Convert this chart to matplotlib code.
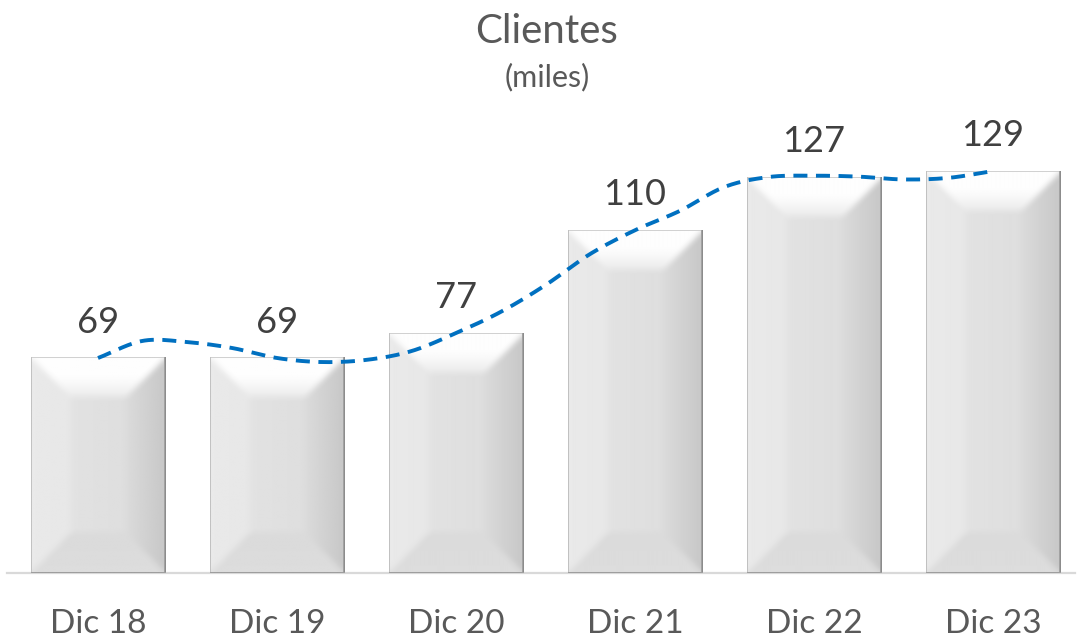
import numpy as np
import matplotlib
matplotlib.use("Agg")
import matplotlib.pyplot as plt

plt.rcParams['font.family'] = ['Lato', 'DejaVu Sans']

# data
categories = ["Dic 18", "Dic 19", "Dic 20", "Dic 21", "Dic 22", "Dic 23"]
clientes = [69, 69, 77, 110, 127, 129]

linea_pos = [0, 0.25, 0.5, 0.75, 1, 1.25, 1.5, 1.75, 2, 2.25, 2.5,
             2.75, 3, 3.25, 3.5, 3.75, 4, 4.25, 4.5, 4.75, 5]
linea_val = [69, 74.5, 74.1, 72.2, 69, 67.7, 68.4, 71.2, 77, 83.8, 92.4,
             102.4, 110, 116.2, 123.9, 127.1, 127.5, 127.2, 126.3, 126.8, 129]

BAR_W = 0.75


def catmull_rom(xs, ys, n=24):
    pts = np.column_stack([xs, ys]).astype(float)
    p = np.vstack([2 * pts[0] - pts[1], pts, 2 * pts[-1] - pts[-2]])
    t = np.linspace(0, 1, n, endpoint=False)[:, None]
    out = []
    for i in range(1, len(p) - 2):
        p0, p1, p2, p3 = p[i - 1], p[i], p[i + 1], p[i + 2]
        seg = 0.5 * (2 * p1 + (-p0 + p2) * t
                     + (2 * p0 - 5 * p1 + 4 * p2 - p3) * t ** 2
                     + (-p0 + 3 * p1 - 3 * p2 + p3) * t ** 3)
        out.append(seg)
    out.append(pts[-1:])
    out = np.vstack(out)
    return out[:, 0], out[:, 1]


def box_blur(a, r):
    k = np.ones(2 * r + 1) / (2 * r + 1)
    a = np.pad(a, r, mode='edge')
    a = np.apply_along_axis(lambda m: np.convolve(m, k, mode='valid'), 0, a)
    a = np.apply_along_axis(lambda m: np.convolve(m, k, mode='valid'), 1, a)
    return a


def bevel(W, H, D=40):
    # grey levels of an Excel style "bevel" fill
    yy, xx = np.mgrid[0:H, 0:W] + 0.5
    d = np.stack([yy, H - yy, xx, W - xx])
    side = d.argmin(0)
    dm = d.min(0)
    t = np.clip(dm / D, 0, 1)
    g = 0.895 - 0.035 * (xx / W)
    inb = dm < D
    top = 0.995 - 0.08 * np.clip((t - 0.4) / 0.6, 0, 1) ** 1.5
    left = 0.915 - 0.01 * t
    right = 0.78 + 0.08 * t
    bottom = 0.865 - 0.01 * t
    g = np.where(inb & (side == 0), top, g)
    g = np.where(inb & (side == 1), bottom, g)
    g = np.where(inb & (side == 2), left, g)
    g = np.where(inb & (side == 3), right, g)
    g = box_blur(g, 4)
    g[0, :] = 0.82
    g[:, 0] = 0.76
    g[:, -1] = 0.55
    g[:, -2] = 0.64
    g[-1, :] = 0.62
    return g


fig = plt.figure(figsize=(10.81, 6.4), dpi=100)
ax = fig.add_axes([7 / 1081, 67 / 640, 1068 / 1081, 473 / 640])
ax.set_xlim((7 - 98) / 179, (1075 - 98) / 179)
ax.set_ylim(0, 473 / 3.116)
ax.set_autoscale_on(False)

px_x = ax.bbox.width / (ax.get_xlim()[1] - ax.get_xlim()[0])
px_y = ax.bbox.height / (ax.get_ylim()[1] - ax.get_ylim()[0])

x = np.arange(len(categories))
for i, v in zip(x, clientes):
    W = int(round(BAR_W * px_x))
    H = int(round(v * px_y))
    img = bevel(W, H)
    ax.imshow(img, cmap='gray', vmin=0, vmax=1, aspect='auto',
              interpolation='bilinear', zorder=2,
              extent=(i - BAR_W / 2, i + BAR_W / 2, 0, v))
    ax.annotate(str(v), (i, v), xytext=(0, 18), textcoords='offset points',
                ha='center', va='baseline', fontsize=26, color='#404040')

sx, sy = catmull_rom(linea_pos, linea_val)
ax.plot(sx, sy, color='#0070C0', lw=2.8, ls=(0, (3.6, 2.2)),
        dash_capstyle='butt', zorder=4)

for s in ['top', 'left', 'right']:
    ax.spines[s].set_visible(False)
ax.spines['bottom'].set_color('#d9d9d9')
ax.spines['bottom'].set_linewidth(1.6)
ax.spines['bottom'].set_zorder(1)
ax.set_yticks([])
ax.set_xticks(x)
ax.set_xticklabels(categories, fontsize=24, color='#595959')
ax.tick_params(axis='x', length=0, pad=26)

fig.text(547 / 1081, 1 - 43 / 640, "Clientes", ha='center', va='baseline',
         fontsize=29, color='#595959')
fig.text(547 / 1081, 1 - 86 / 640, "(miles)", ha='center', va='baseline',
         fontsize=22, color='#595959')

fig.savefig("out.png", dpi=100, facecolor='white')
